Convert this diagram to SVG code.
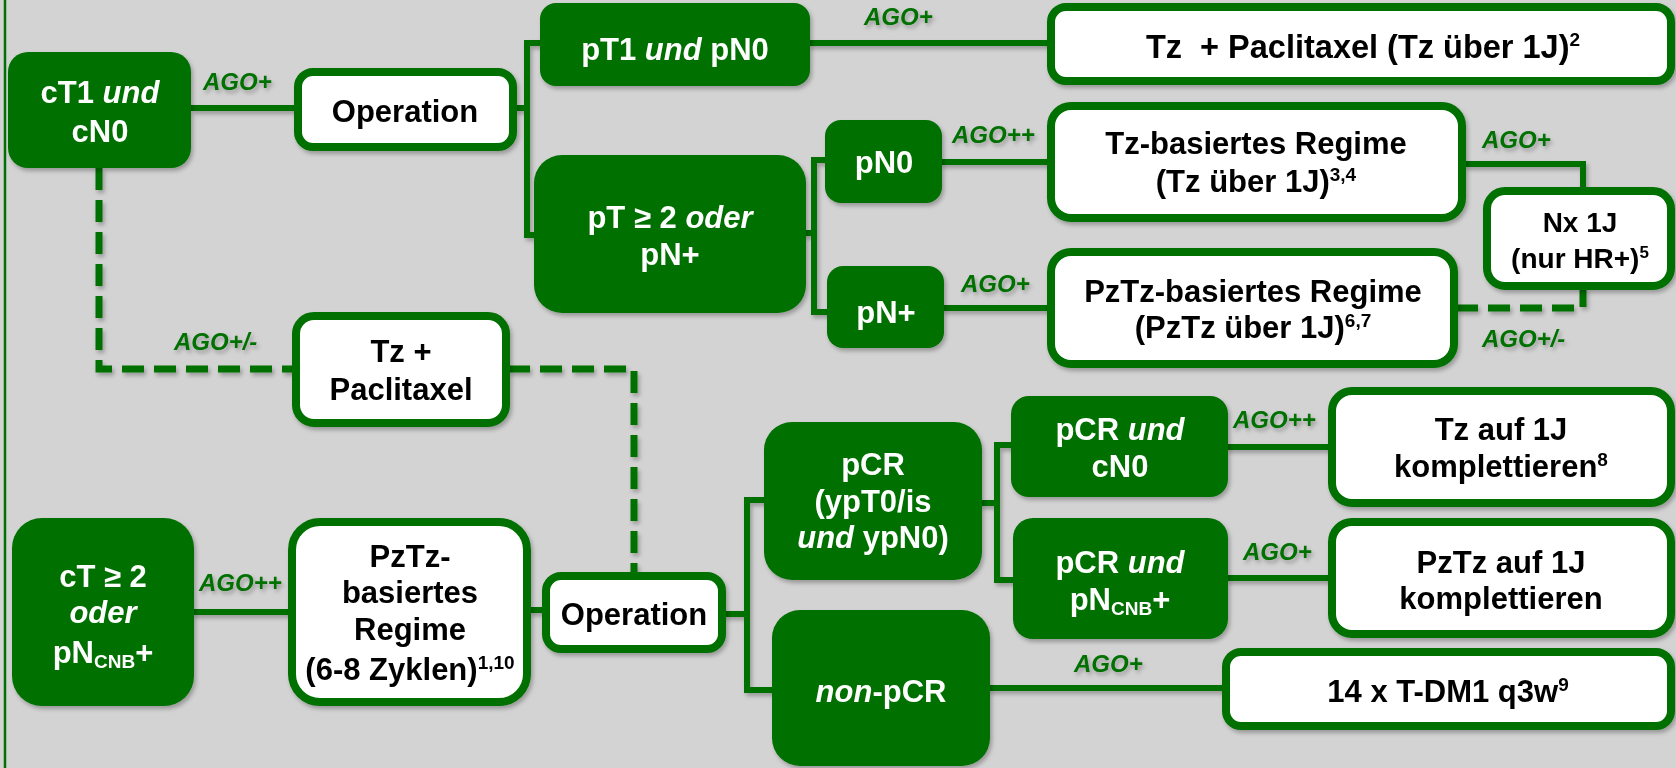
<svg xmlns="http://www.w3.org/2000/svg" width="1676" height="768" viewBox="0 0 1676 768">
<defs>
<filter id="sh" x="-10%" y="-10%" width="120%" height="130%">
<feDropShadow dx="2" dy="3" stdDeviation="2" flood-color="#000" flood-opacity="0.28"/>
</filter>
<style>
.dk{fill:#007000;}
.wb{fill:#fff;stroke:#007000;stroke-width:8;}
.ln{fill:none;stroke:#007000;stroke-width:6;}
.ds{fill:none;stroke:#007000;stroke-width:7;stroke-dasharray:22 10;}
text{font-family:"Liberation Sans",Arial,sans-serif;font-weight:bold;text-anchor:middle;}
.w{fill:#fff;font-size:31px;}
.b{fill:#000;font-size:31px;}
.s{fill:#000;font-size:28px;}
.ago{fill:#007000;font-size:24px;font-style:italic;text-anchor:start;}
.i{font-style:italic;}
.sup{font-size:19px;}
.sub{font-size:19px;}
</style>
</defs>
<rect x="0" y="0" width="1676" height="768" fill="#d3d3d3"/>
<line x1="5" y1="0" x2="5" y2="768" stroke="#007000" stroke-width="2.5"/>

<g id="connectors" filter="url(#sh)">
<path class="ln" d="M191 108 H296"/>
<path class="ln" d="M515 108 H527 M542 43 H527 V235 H536"/>
<path class="ln" d="M808 43 H1049"/>
<path class="ln" d="M804 233 H814 M827 160 H814 V312 H829"/>
<path class="ln" d="M940 162 H1049"/>
<path class="ln" d="M942 308 H1049"/>
<path class="ln" d="M1464 164 H1583 V189"/>
<path class="ds" d="M1456 308 H1583 V288"/>
<path class="ds" d="M99 168 V369 H294"/>
<path class="ds" d="M508 369 H634 V574"/>
<path class="ln" d="M192 612 H290"/>
<path class="ln" d="M529 610 H544"/>
<path class="ln" d="M724 614 H747 M766 500 H747 V690 H774"/>
<path class="ln" d="M980 503 H997 M1013 445 H997 V580 H1015"/>
<path class="ln" d="M1226 447 H1330"/>
<path class="ln" d="M1226 578 H1330"/>
<path class="ln" d="M988 688 H1224"/>
<text class="ago" x="203" y="90">AGO+</text>
<text class="ago" x="864" y="25">AGO+</text>
<text class="ago" x="952" y="143">AGO++</text>
<text class="ago" x="961" y="292">AGO+</text>
<text class="ago" x="1482" y="148">AGO+</text>
<text class="ago" x="1482" y="347">AGO+/-</text>
<text class="ago" x="174" y="350">AGO+/-</text>
<text class="ago" x="199" y="591">AGO++</text>
<text class="ago" x="1233" y="428">AGO++</text>
<text class="ago" x="1243" y="560">AGO+</text>
<text class="ago" x="1074" y="672">AGO+</text>
</g>

<g id="cT1" filter="url(#sh)">
<rect class="dk" x="8" y="52" width="183" height="116" rx="20"/>
<text class="w" x="100" y="103">cT1 <tspan class="i">und</tspan></text>
<text class="w" x="100" y="142">cN0</text>
</g>
<g id="op1" filter="url(#sh)">
<rect class="wb" x="298" y="72" width="215" height="75" rx="15"/>
<text class="b" x="405" y="122">Operation</text>
</g>
<g id="pT1" filter="url(#sh)">
<rect class="dk" x="540" y="3" width="270" height="83" rx="16"/>
<text class="w" x="675" y="60">pT1 <tspan class="i">und</tspan> pN0</text>
</g>
<g id="pT2" filter="url(#sh)">
<rect class="dk" x="534" y="155" width="272" height="158" rx="28"/>
<text class="w" x="670" y="228">pT ≥ 2 <tspan class="i">oder</tspan></text>
<text class="w" x="670" y="265">pN+</text>
</g>
<g id="pN0" filter="url(#sh)">
<rect class="dk" x="825" y="120" width="117" height="83" rx="16"/>
<text class="w" x="884" y="173">pN0</text>
</g>
<g id="pNplus" filter="url(#sh)">
<rect class="dk" x="827" y="266" width="117" height="82" rx="16"/>
<text class="w" x="886" y="323">pN+</text>
</g>
<g id="tzpac1" filter="url(#sh)">
<rect class="wb" x="1051" y="7" width="620" height="74" rx="15"/>
<text class="b" x="1363" y="58" xml:space="preserve" style="font-size:32.5px">Tz  + Paclitaxel (Tz über 1J)<tspan class="sup" dy="-12">2</tspan></text>
</g>
<g id="tzbas" filter="url(#sh)">
<rect class="wb" x="1051" y="106" width="411" height="112" rx="20"/>
<text class="b" x="1256" y="154">Tz-basiertes Regime</text>
<text class="b" x="1256" y="192">(Tz über 1J)<tspan class="sup" dy="-11">3,4</tspan></text>
</g>
<g id="pztzbas" filter="url(#sh)">
<rect class="wb" x="1051" y="252" width="403" height="112" rx="20"/>
<text class="b" x="1253" y="302">PzTz-basiertes Regime</text>
<text class="b" x="1253" y="338">(PzTz über 1J)<tspan class="sup" dy="-11">6,7</tspan></text>
</g>
<g id="nx" filter="url(#sh)">
<rect class="wb" x="1487" y="191" width="184" height="95" rx="18"/>
<text class="s" x="1580" y="232">Nx 1J</text>
<text class="s" x="1580" y="268">(nur HR+)<tspan class="sup" dy="-10" style="font-size:17px">5</tspan></text>
</g>
<g id="tzpac2" filter="url(#sh)">
<rect class="wb" x="296" y="316" width="210" height="107" rx="18"/>
<text class="b" x="401" y="362">Tz +</text>
<text class="b" x="401" y="400">Paclitaxel</text>
</g>
<g id="cT2" filter="url(#sh)">
<rect class="dk" x="12" y="518" width="182" height="188" rx="30"/>
<text class="w" x="103" y="587">cT ≥ 2</text>
<text class="w" x="103" y="623"><tspan class="i">oder</tspan></text>
<text class="w" x="103" y="663">pN<tspan class="sub" dy="5">CNB</tspan><tspan dy="-5">+</tspan></text>
</g>
<g id="pztzneo" filter="url(#sh)">
<rect class="wb" x="292" y="522" width="235" height="180" rx="28"/>
<text class="b" x="410" y="567">PzTz-</text>
<text class="b" x="410" y="603">basiertes</text>
<text class="b" x="410" y="640">Regime</text>
<text class="b" x="410" y="680">(6-8 Zyklen)<tspan class="sup" dy="-11">1,10</tspan></text>
</g>
<g id="op2" filter="url(#sh)">
<rect class="wb" x="546" y="576" width="176" height="73" rx="15"/>
<text class="b" x="634" y="625">Operation</text>
</g>
<g id="pcr" filter="url(#sh)">
<rect class="dk" x="764" y="422" width="218" height="158" rx="28"/>
<text class="w" x="873" y="475">pCR</text>
<text class="w" x="873" y="512">(ypT0/is</text>
<text class="w" x="873" y="548"><tspan class="i">und</tspan> ypN0)</text>
</g>
<g id="nonpcr" filter="url(#sh)">
<rect class="dk" x="772" y="610" width="218" height="156" rx="28"/>
<text class="w" x="881" y="702"><tspan class="i">non</tspan>-pCR</text>
</g>
<g id="pcrcn0" filter="url(#sh)">
<rect class="dk" x="1011" y="396" width="217" height="101" rx="18"/>
<text class="w" x="1120" y="440">pCR <tspan class="i">und</tspan></text>
<text class="w" x="1120" y="477">cN0</text>
</g>
<g id="pcrpn" filter="url(#sh)">
<rect class="dk" x="1013" y="518" width="215" height="121" rx="20"/>
<text class="w" x="1120" y="573">pCR <tspan class="i">und</tspan></text>
<text class="w" x="1120" y="610">pN<tspan class="sub" dy="5">CNB</tspan><tspan dy="-5">+</tspan></text>
</g>
<g id="tzauf" filter="url(#sh)">
<rect class="wb" x="1332" y="391" width="339" height="112" rx="20"/>
<text class="b" x="1501" y="440">Tz auf 1J</text>
<text class="b" x="1501" y="477">komplettieren<tspan class="sup" dy="-11">8</tspan></text>
</g>
<g id="pztzauf" filter="url(#sh)">
<rect class="wb" x="1332" y="522" width="339" height="112" rx="20"/>
<text class="b" x="1501" y="573">PzTz auf 1J</text>
<text class="b" x="1501" y="609">komplettieren</text>
</g>
<g id="tdm1" filter="url(#sh)">
<rect class="wb" x="1226" y="652" width="445" height="74" rx="15"/>
<text class="b" x="1448" y="702">14 x T-DM1 q3w<tspan class="sup" dy="-11">9</tspan></text>
</g>
</svg>
